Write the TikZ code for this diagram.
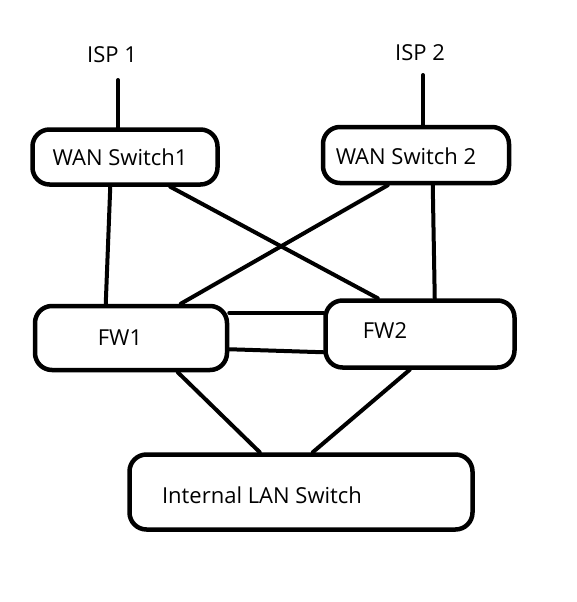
\documentclass[tikz,border=0pt]{standalone}
\usepackage{fontspec}
\setmainfont{Open Sans}
\usetikzlibrary{calc}

\begin{document}
\begin{tikzpicture}[x=1pt,y=-1pt,line cap=round,
    every node/.style={font=\fontsize{22}{26}\selectfont},
    devbox/.style={draw,line width=4.5pt,rounded corners=17pt,inner sep=0pt},
    link/.style={line width=4pt}]
  \useasboundingbox (0,0) rectangle (577,602);
  % ISPs
  \node (isp1) at (112,55) {ISP 1};
  \node (isp2) at (420,53) {ISP 2};
  \coordinate (up1) at (118,80);
  \coordinate (up2) at (423,75);
  % boxes
  \node[devbox,minimum width=185pt,minimum height=55pt] (wan1) at (125,157) {};
  \node[devbox,minimum width=186pt,minimum height=56pt] (wan2) at (416,155) {};
  \node[devbox,minimum width=192pt,minimum height=64pt] (fw1) at (131,338) {};
  \node[devbox,minimum width=189pt,minimum height=67pt] (fw2) at (420,334) {};
  \node[devbox,minimum width=343pt,minimum height=75pt] (lan) at (301,492) {};
  % labels
  \node (wan1txt) at (120,157) {WAN Switch1};
  \node (wan2txt) at (406,156) {WAN Switch 2};
  \node (fw1txt) at (120,338) {FW1};
  \node (fw2txt) at (385,331) {FW2};
  \node (lantxt) at (262,495) {Internal LAN Switch};
  % uplinks
  \draw[link] (up1) -- (up1 |- wan1.north);
  \draw[link] (up2) -- (up2 |- wan2.north);
  % wan to fw
  \draw[link] ($(wan1.south west)+(80,0)$) -- ($(fw1.north west)+(73,0)$);
  \draw[link] ($(wan1.south west)+(140,0)$) -- ($(fw2.north west)+(54.5,0)$);
  \draw[link] ($(wan2.south west)+(67,0)$) -- ($(fw1.north west)+(148,0)$);
  \draw[link] ($(wan2.south west)+(112,0)$) -- ($(fw2.north west)+(111.5,0)$);
  % fw to fw
  \draw[link] ($(fw1.north east)+(0,9)$) -- ($(fw2.north west)+(0,14.5)$);
  \draw[link] ($(fw1.south east)+(0,-23)$) -- ($(fw2.south west)+(0,-17.5)$);
  % fw to lan
  \draw[link] ($(fw1.south west)+(145,0)$) -- ($(lan.north west)+(132.5,0)$);
  \draw[link] ($(fw2.south west)+(86.5,0)$) -- ($(lan.north west)+(185.5,0)$);
\end{tikzpicture}
\end{document}
